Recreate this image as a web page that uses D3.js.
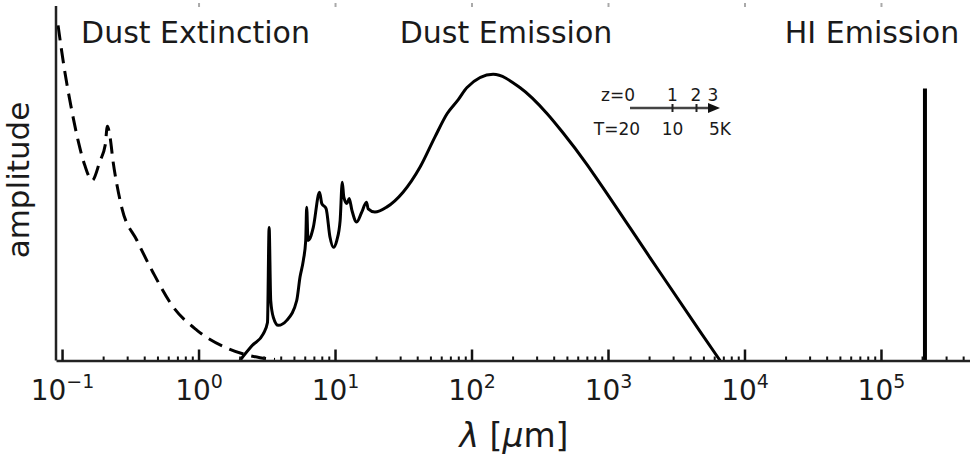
<!DOCTYPE html>
<html><head><meta charset="utf-8">
<script src="https://cdn.jsdelivr.net/npm/d3@7"></script>
<style>
body{margin:0;background:#fff}
svg{display:block}
text{font-family:"DejaVu Sans",sans-serif;fill:#1a1a1a}
</style>
</head><body>
<svg id="c" width="970" height="460"></svg>
<script>
// ---- data ----
const majorTicks = [0.1, 1, 10, 100, 1000, 10000, 100000];
const tickExponents = ["\u22121", "0", "1", "2", "3", "4", "5"];

// Dust extinction curve (dashed): wavelength [um], amplitude
const extLambda = [0.0935, 0.105, 0.116, 0.131, 0.147, 0.166, 0.190, 0.207, 0.215, 0.225, 0.237, 0.253, 0.275, 0.354, 0.464, 0.640, 0.975, 1.64, 2.82, 3.63];
const extAmp    = [0.944, 0.811, 0.718, 0.620, 0.549, 0.507, 0.563, 0.606, 0.660, 0.628, 0.558, 0.493, 0.428, 0.338, 0.248, 0.155, 0.085, 0.034, 0.008, 0.003];

// Dust emission SED (solid)
const emLambda = [2.01, 2.47, 2.98, 3.2, 3.29, 3.38, 3.53, 3.84, 4.43, 5.24, 5.54, 5.86, 6.1, 6.2, 6.34, 6.56, 6.93, 7.7, 8.0, 8.6, 9.19, 9.72, 10.3, 10.9, 11.3, 11.6, 12.2, 12.7, 13.3, 14.4, 15.7, 17.0, 17.5, 19.6, 23.9, 31.5, 42.0, 54, 66.2, 80, 92.7, 144, 226, 357, 460, 702, 874, 2030, 4720, 6620];
const emAmp    = [0, 0.042, 0.075, 0.107, 0.375, 0.169, 0.122, 0.099, 0.113, 0.169, 0.235, 0.282, 0.338, 0.432, 0.338, 0.344, 0.375, 0.474, 0.442, 0.428, 0.347, 0.319, 0.338, 0.394, 0.502, 0.460, 0.442, 0.456, 0.423, 0.390, 0.418, 0.446, 0.427, 0.418, 0.432, 0.474, 0.545, 0.630, 0.695, 0.735, 0.769, 0.806, 0.769, 0.696, 0.645, 0.552, 0.499, 0.290, 0.082, 0];

// HI 21cm line
const hiLambda = [2.1e5];
const hiAmp = [0.766];

// Region titles
const regionNames = ["Dust Extinction", "Dust Emission", "HI Emission"];
const regionCenters = [0.95, 179, 8.6e4]; // wavelength of title centre

// Redshift / temperature inset
const zLabels = ["z=0", "1", "2", "3"];
const tLabels = ["T=20", "10", "", "5K"];

// ---- chart ----
const svg = d3.select("#c");
const x = d3.scaleLog().domain([0.0903, 4.49e5]).range([56, 970]);
const y = d3.scaleLinear().domain([0, 1]).range([360.5, 5.5]);

const minorTicks = [];
majorTicks.forEach(d => { for (let k = 2; k <= 9; k++) { const v = k * d; if (v > x.domain()[0] && v < x.domain()[1]) minorTicks.push(v); } });

// top tick stubs
const gTop = svg.append("g").attr("transform", "translate(0,0)")
  .call(d3.axisTop(x).tickValues(majorTicks.slice(1)).tickSizeInner(-7).tickSizeOuter(0).tickFormat(""));
gTop.select(".domain").remove();
gTop.selectAll(".tick line").attr("stroke", "#aaa").attr("stroke-width", 2).attr("y1", 3);

// curves
const lineExt = d3.line().x(d => x(d[0])).y(d => y(d[1])).curve(d3.curveMonotoneX);
svg.append("path").datum(extLambda.map((l, i) => [l, extAmp[i]]))
  .attr("d", lineExt).attr("fill", "none").attr("stroke", "#000")
  .attr("stroke-width", 3).attr("stroke-dasharray", "15,8");

const lineEm = d3.line().x(d => x(d[0])).y(d => y(d[1])).curve(d3.curveMonotoneX);
svg.append("path").datum(emLambda.map((l, i) => [l, emAmp[i]]))
  .attr("d", lineEm).attr("fill", "none").attr("stroke", "#000")
  .attr("stroke-width", 3).attr("stroke-linejoin", "round");

svg.selectAll(".hi").data(hiLambda).enter().append("line")
  .attr("x1", d => x(d)).attr("x2", d => x(d))
  .attr("y1", y(0)).attr("y2", (d, i) => y(hiAmp[i]))
  .attr("stroke", "#000").attr("stroke-width", 4);

// left spine
svg.append("line").attr("x1", 56).attr("x2", 56).attr("y1", 6).attr("y2", y(0))
  .attr("stroke", "#222").attr("stroke-width", 2.5);

// bottom axis: minor
const gMinor = svg.append("g").attr("transform", `translate(0,${y(0)})`)
  .call(d3.axisBottom(x).tickValues(minorTicks).tickSizeInner(-4).tickSizeOuter(0).tickFormat(""));
gMinor.select(".domain").remove();
gMinor.selectAll(".tick line").attr("stroke", "#111").attr("stroke-width", 2);

// bottom axis: major
const gMajor = svg.append("g").attr("transform", `translate(0,${y(0)})`)
  .call(d3.axisBottom(x).tickValues(majorTicks).tickSizeInner(-11).tickSizeOuter(0).tickFormat(""));
gMajor.select(".domain").attr("stroke", "#222").attr("stroke-width", 2.5);
gMajor.selectAll(".tick line").attr("stroke", "#111").attr("stroke-width", 2.5);
gMajor.selectAll(".tick text").each(function(d, i) {
  const t = d3.select(this).attr("y", 39).attr("dy", 0).attr("font-size", 28).attr("fill", "#1a1a1a");
  t.append("tspan").text("10");
  t.append("tspan").text(tickExponents[i]).attr("font-size", 19).attr("dy", -12);
});

// axis titles
svg.append("text").attr("x", 514).attr("y", 447).attr("text-anchor", "middle").attr("font-size", 33)
  .call(t => { t.append("tspan").text("\u03bb").attr("font-style", "italic"); t.append("tspan").text(" ["); t.append("tspan").text("\u03bc").attr("font-style", "italic"); t.append("tspan").text("m]"); });
svg.append("text").attr("transform", "translate(29,180) rotate(-90)").attr("text-anchor", "middle")
  .attr("font-size", 31).text("amplitude");

// region titles
svg.selectAll(".rt").data(regionNames).enter().append("text")
  .attr("x", (d, i) => x(regionCenters[i])).attr("y", 43).attr("text-anchor", "middle")
  .attr("font-size", 30).text(d => d);

// inset arrow
svg.append("line").attr("x1", 630).attr("x2", 712).attr("y1", 108).attr("y2", 108)
  .attr("stroke", "#444").attr("stroke-width", 2.5);
svg.append("path").attr("d", "M708,103L720,108L708,113Z").attr("fill", "#111");
[672.5, 696.5].forEach(px => svg.append("line").attr("x1", px).attr("x2", px).attr("y1", 104).attr("y2", 112)
  .attr("stroke", "#222").attr("stroke-width", 2));
const zx = [618, 672.5, 696, 713];
const tx = [617, 672.5, 696, 720];
svg.selectAll(".zl").data(zLabels).enter().append("text")
  .attr("x", (d, i) => zx[i]).attr("y", 101).attr("text-anchor", "middle").attr("font-size", 17).attr("fill", "#333").text(d => d);
svg.selectAll(".tl").data(tLabels).enter().append("text")
  .attr("x", (d, i) => tx[i]).attr("y", 135).attr("text-anchor", "middle").attr("font-size", 17).attr("fill", "#333").text(d => d);
</script>
</body></html>
